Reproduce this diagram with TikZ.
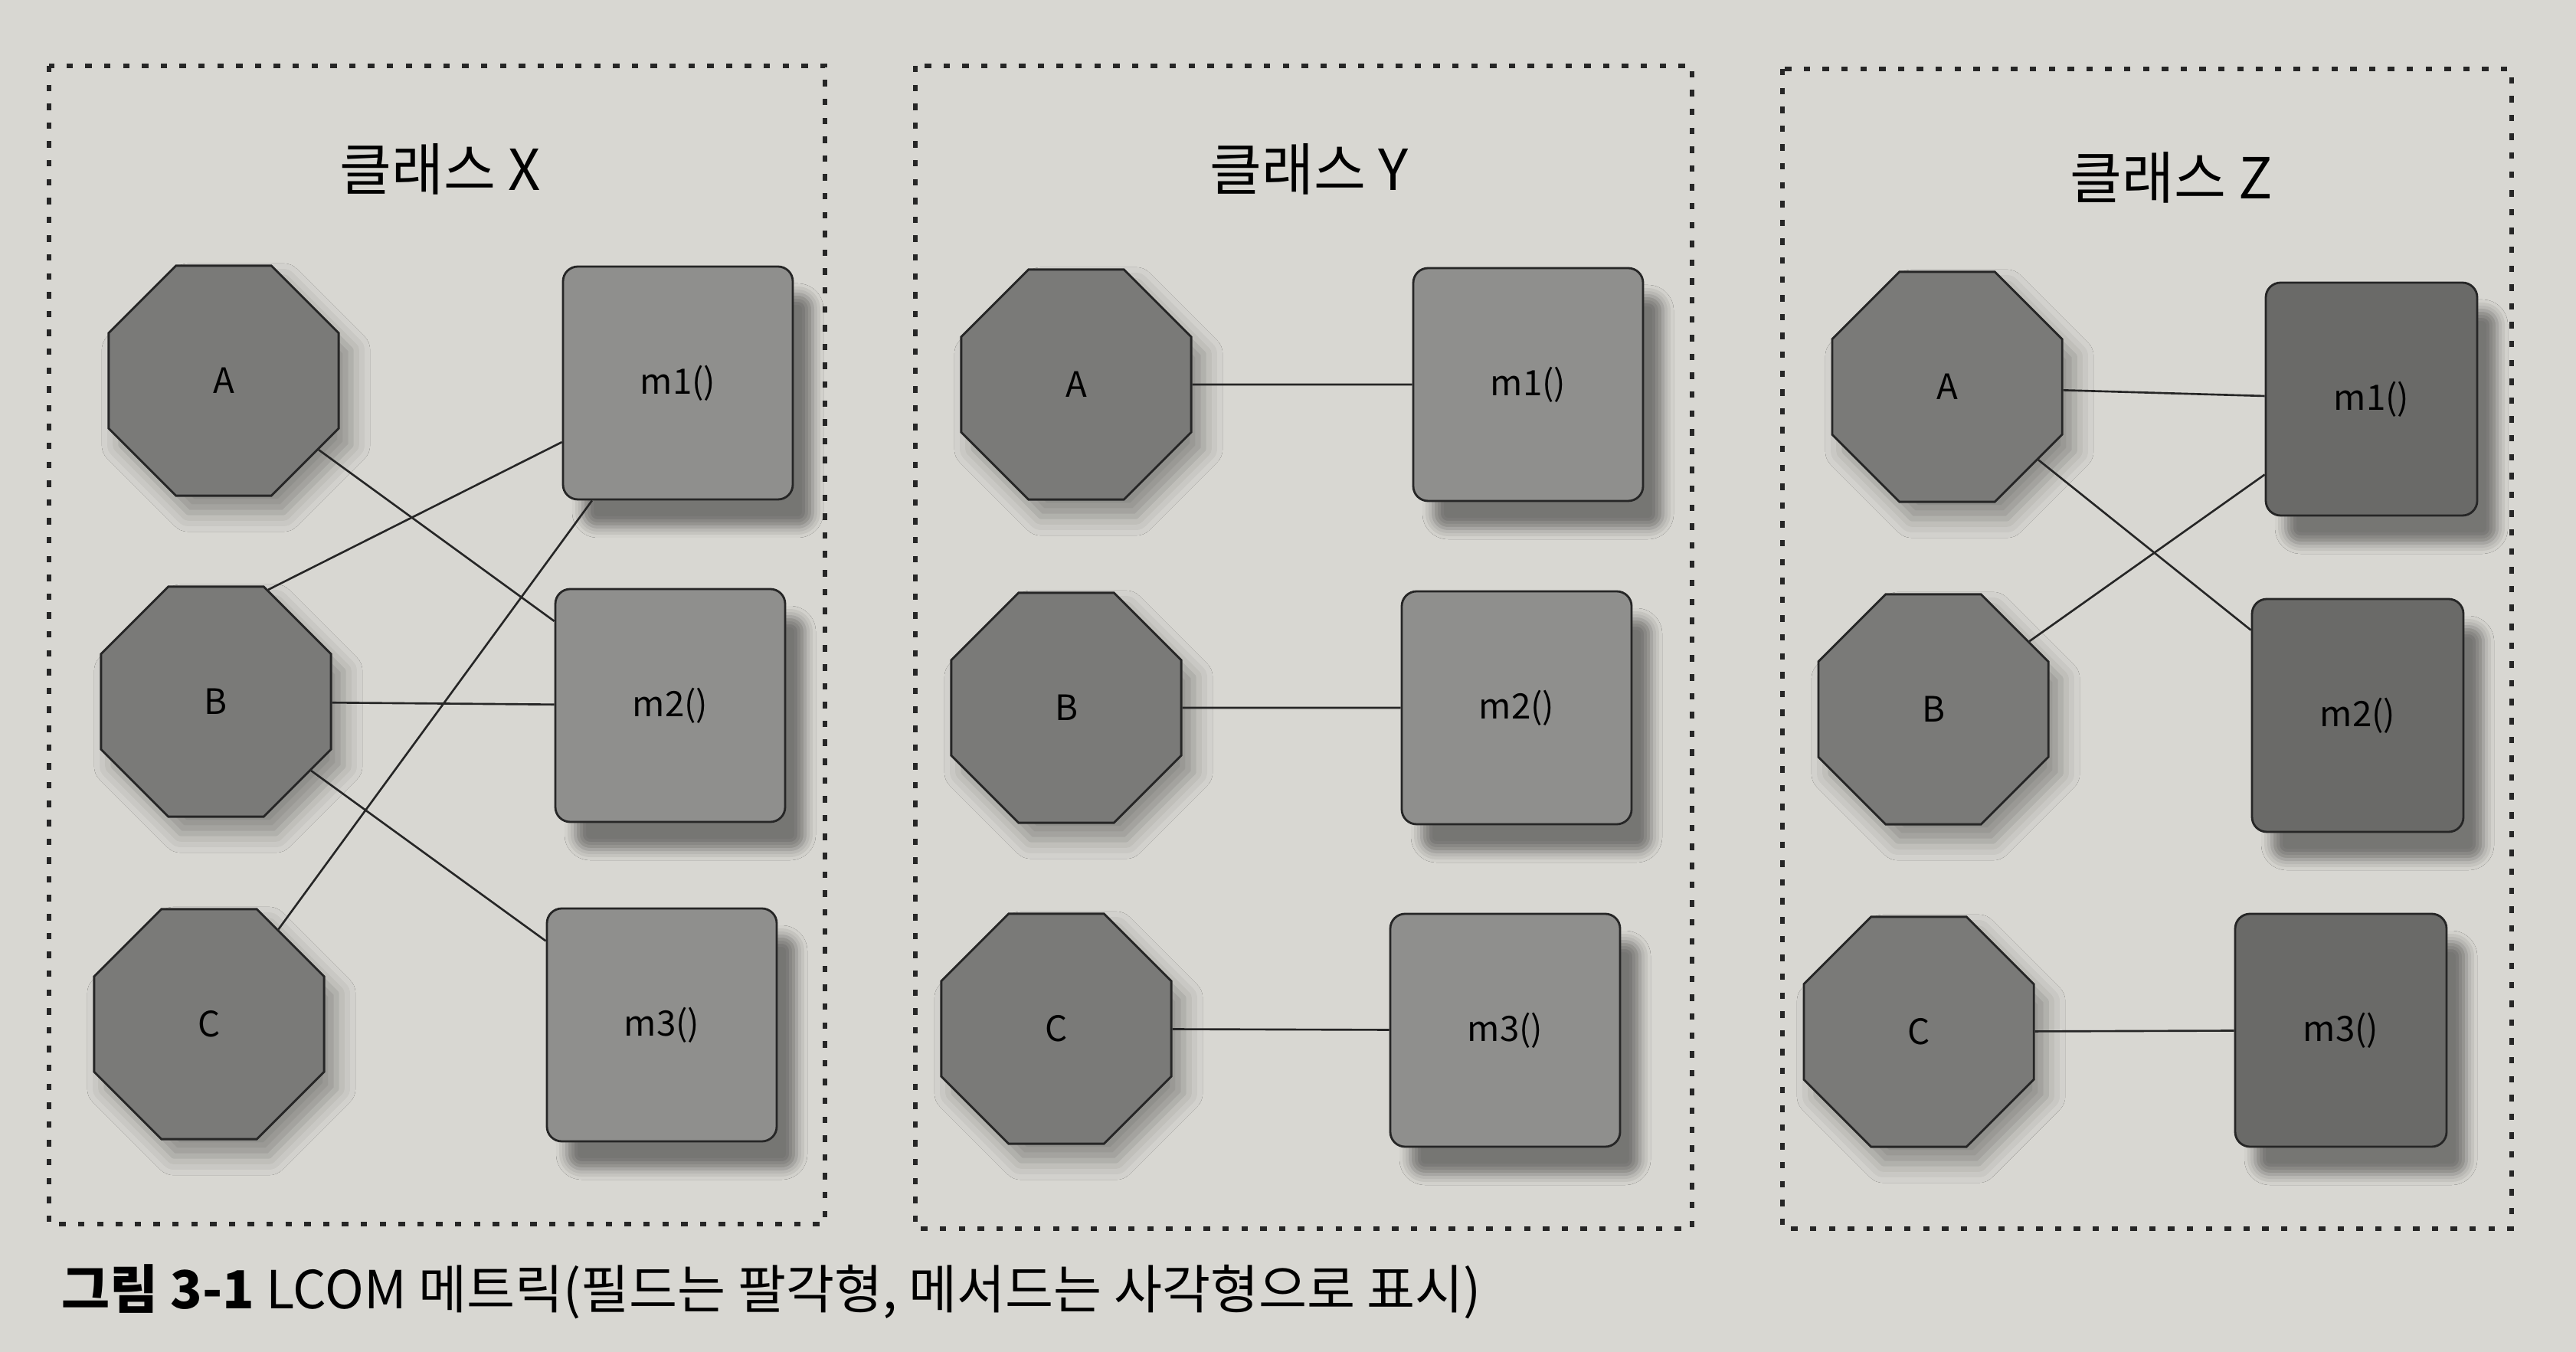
\documentclass[tikz,border=0pt]{standalone}
\usepackage{fontspec}
\setmainfont{Noto Sans CJK KR}
\usetikzlibrary{shapes.geometric,shadows.blur}
\definecolor{paper}{HTML}{D8D7D2}
\definecolor{fieldgray}{HTML}{7A7A78}
\definecolor{methodgray}{HTML}{8F8F8D}
\definecolor{darkmethod}{HTML}{6A6A68}

\begin{document}
\begin{tikzpicture}[x=1cm, y=-1cm,
  field/.style={regular polygon, regular polygon sides=8, minimum size=3.25cm, inner sep=0pt,
    draw=black!85, line width=0.8pt, fill=fieldgray,
    blur shadow={shadow xshift=0.16cm, shadow yshift=-0.22cm, shadow blur radius=0.25cm, shadow opacity=35},
    font=\fontsize{13}{15}\selectfont},
  method/.style={rectangle, rounded corners=5.5pt, minimum width=3.0cm, minimum height=3.04cm, inner sep=0pt,
    draw=black!85, line width=0.8pt, fill=methodgray,
    blur shadow={shadow xshift=0.26cm, shadow yshift=-0.36cm, shadow blur radius=0.14cm, shadow opacity=45},
    font=\fontsize{13}{15}\selectfont},
  zmethod/.style={method, minimum width=2.76cm, fill=darkmethod},
  link/.style={draw=black!85, line width=0.75pt},
  frame/.style={draw=black!85, line width=1.5pt, dash pattern=on 2.4pt off 4.6pt},
  title/.style={font=\fontsize{21}{25}\selectfont}]

  % page
  \fill[paper] (0,0) rectangle (33.63,17.65);
  \useasboundingbox (0,0) rectangle (33.63,17.65);

  % dotted frames round the classes
  \draw[frame] (0.64,0.86) rectangle (10.77,15.98);
  \draw[frame] (11.95,0.86) rectangle (22.09,16.04);
  \draw[frame] (23.27,0.90) rectangle (32.79,16.04);

  \node[title] (xtitle) at (5.75,2.21) {클래스 X};
  \node[title] (ytitle) at (17.09,2.21) {클래스 Y};
  \node[title] (ztitle) at (28.35,2.32) {클래스 Z};

  % fields
  \foreach \n/\x/\y/\l in {xA/2.92/4.97/A, xB/2.82/9.16/B, xC/2.73/13.37/C,
                           yA/14.05/5.02/A, yB/13.92/9.24/B, yC/13.79/13.43/C,
                           zA/25.42/5.05/A, zB/25.24/9.26/B, zC/25.05/13.47/C} {
    \node[field] (\n) at (\x,\y) {\l};
  }

  % methods
  \foreach \n/\x/\y/\l in {xm1/8.85/5.00/m1(), xm2/8.75/9.21/m2(), xm3/8.64/13.38/m3(),
                           ym1/19.95/5.02/m1(), ym2/19.80/9.24/m2(), ym3/19.65/13.45/m3()} {
    \node[method] (\n) at (\x,\y) {\l};
  }
  \foreach \n/\x/\y/\l in {zm1/30.96/5.21/m1(), zm2/30.78/9.34/m2(), zm3/30.56/13.45/m3()} {
    \node[zmethod] (\n) at (\x,\y) {\l};
  }

  % field -- method links
  \foreach \a/\b in {xA/xm2, xB/xm2, xB/xm3, xC/xm1,
                     yA/ym1, yB/ym2, yC/ym3,
                     zA/zm1, zA/zm2, zB/zm1, zC/zm3} {
    \draw[link] (\a) -- (\b);
  }
  \draw[link] (xB.65) -- (xm1.207);

  % caption
  \node[anchor=west, inner sep=0pt, font=\fontsize{19.5}{23}\selectfont] (caption) at (0.80,16.86)
    {\textbf{그림 3-1} LCOM 메트릭(필드는 팔각형, 메서드는 사각형으로 표시)};

\end{tikzpicture}
\end{document}
